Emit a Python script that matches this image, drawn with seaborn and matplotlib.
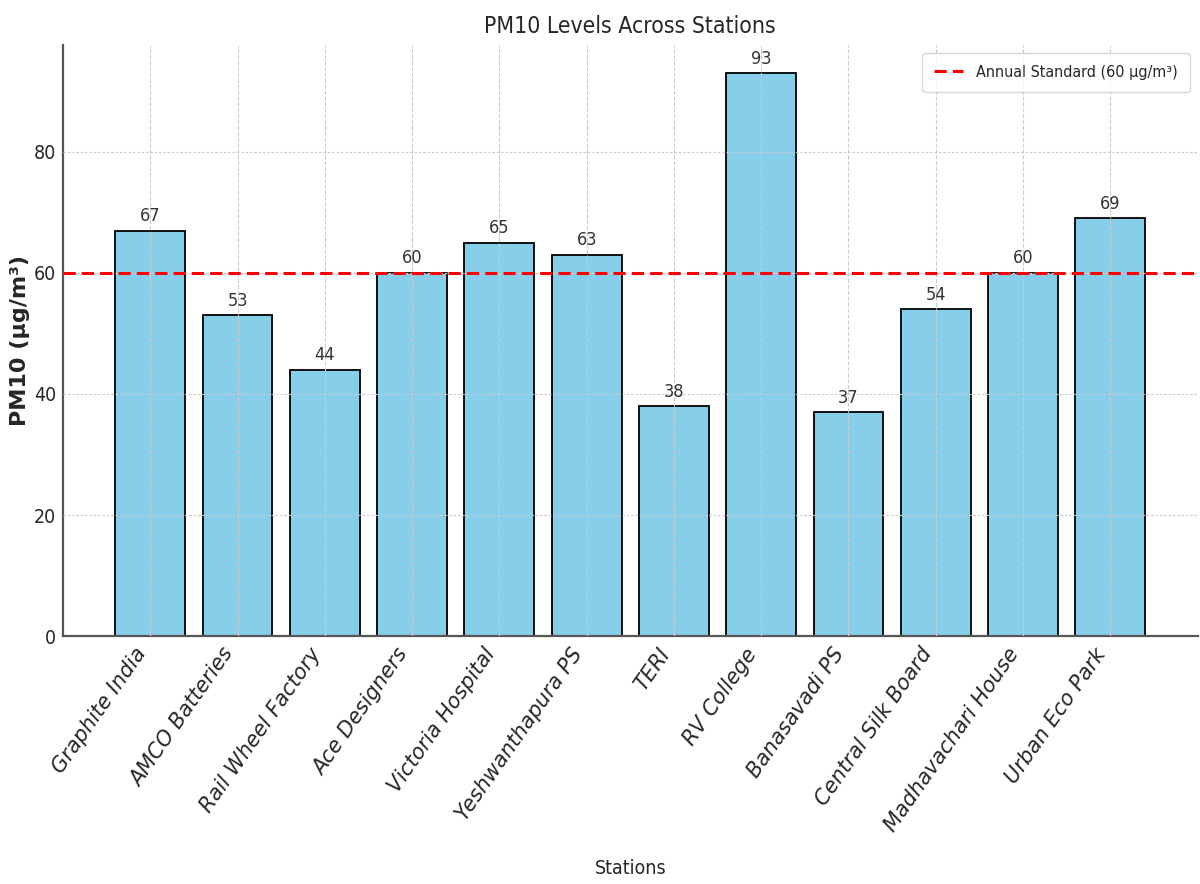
import matplotlib
matplotlib.use("Agg")
import matplotlib.pyplot as plt
import seaborn as sns
import pandas as pd
from matplotlib import font_manager
from matplotlib.font_manager import FontProperties

stations = ["Graphite India", "AMCO Batteries", "Rail Wheel Factory", "Ace Designers",
            "Victoria Hospital", "Yeshwanthapura PS", "TERI", "RV College",
            "Banasavadi PS", "Central Silk Board", "Madhavachari House", "Urban Eco Park"]
pm10 = [67, 53, 44, 60, 65, 63, 38, 93, 37, 54, 60, 69]
standard = 60
standard_label = "Annual Standard (60 µg/m³)"

sns.set_style("whitegrid")
plt.rcParams["font.family"] = ["DejaVu Sans"]
plt.rcParams["text.color"] = "#262626"

# explicit oblique face for the category labels
obl_path = None
for f in font_manager.fontManager.ttflist:
    if f.fname.endswith("DejaVuSans-Oblique.ttf"):
        obl_path = f.fname
        break
if obl_path:
    xfont = FontProperties(fname=obl_path, size=15)
else:
    xfont = FontProperties(family="DejaVu Sans", style="oblique", size=15)

fig, ax = plt.subplots(figsize=(12, 8.84), dpi=100)
fig.subplots_adjust(left=0.0525, right=0.998, top=0.949, bottom=0.2805)

df = pd.DataFrame({"Station": stations, "PM10": pm10})
sns.barplot(data=df, x="Station", y="PM10", color="skyblue", edgecolor="black",
            linewidth=1.3, width=0.8, saturation=1, ax=ax, zorder=2)
for c in ax.containers:
    ax.bar_label(c, padding=4, fontsize=13, color="#333333", fontstretch="condensed")

ax.axhline(standard, color="red", linestyle=(0, (4, 2)), linewidth=2.2,
           label=standard_label, zorder=4)

ax.set_axisbelow(False)
ax.xaxis.grid(True, color="#cccccc", linestyle=(0, (3.7, 1.6)), linewidth=0.8, zorder=3)
ax.yaxis.grid(True, color="#cccccc", linestyle=(0, (2.3, 1.6)), linewidth=0.8, zorder=3)

ax.set_title("PM10 Levels Across Stations", fontsize=16.5, fontstretch="condensed", pad=9)
ax.set_ylabel("PM10 (µg/m³)", fontsize=16, fontweight="bold")
ax.set_xlabel("Stations", fontsize=14, fontstretch="condensed", va="top")
ax.xaxis.set_label_coords(0.5, -0.378)
ax.yaxis.set_label_coords(-0.029, 0.5)

ax.set_xlim(-1, 12)
ax.set_ylim(0, 97.65)
ax.set_yticks([0, 20, 40, 60, 80])
ax.set_xticks(range(len(stations)))
ax.set_xticklabels(stations, rotation=55, ha="right", rotation_mode="default",
                   fontproperties=xfont)
for t in ax.get_yticklabels():
    t.set_fontsize(14)
    t.set_fontstretch("condensed")
ax.tick_params(axis="y", direction="in", length=4, width=1.2, color="#555555", pad=5)
ax.tick_params(axis="x", direction="in", length=0, pad=6)

for s in ["top", "right"]:
    ax.spines[s].set_visible(False)
for s in ["left", "bottom"]:
    ax.spines[s].set_color("#555555")
    ax.spines[s].set_linewidth(1.6)

leg = ax.legend(loc="upper right", prop={"size": 11.5, "stretch": "condensed"},
                borderaxespad=0.5, borderpad=0.75, handlelength=1.8, frameon=True)
leg.get_frame().set_edgecolor("#cccccc")

plt.savefig("out.png")
